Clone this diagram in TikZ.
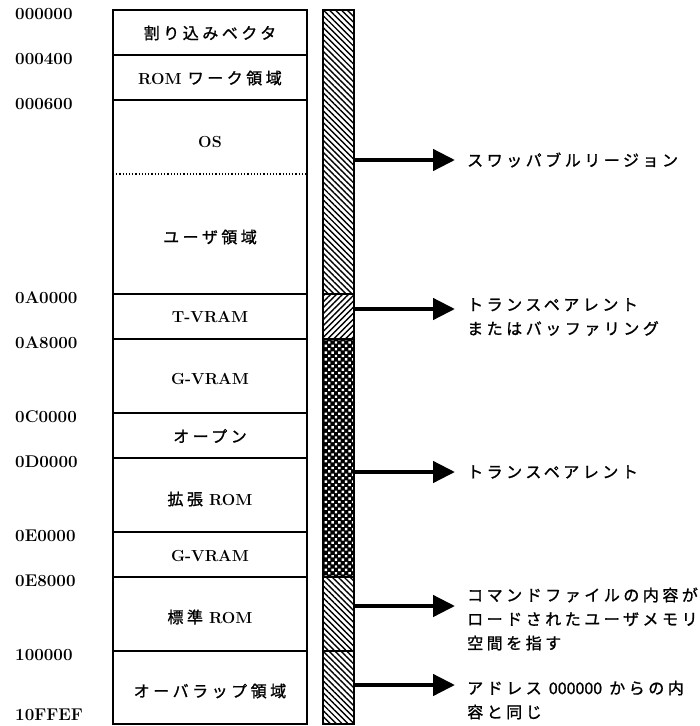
\documentclass[tikz,border=0pt]{standalone}
\usepackage{fontspec}
\usetikzlibrary{patterns.meta,arrows.meta}
\newfontfamily\jpfont{Noto Sans CJK JP}[LetterSpace=22,FakeBold=1.2]
\newfontfamily\jpplain{Noto Sans CJK JP}[FakeBold=1]
\newcommand{\jp}[1]{{\mdseries\fontsize{16}{18}\selectfont\jpfont #1}}
\tikzset{
  addr/.style={anchor=west,inner sep=0pt,font=\fontsize{17}{20}\selectfont\bfseries},
  cell/.style={inner sep=0pt,font=\fontsize{16}{19}\selectfont\bfseries},
  note/.style={anchor=west,inner sep=0pt,align=left,font=\fontsize{16}{24}\selectfont\jpfont},
  bigarrow/.style={line width=4.5pt,-{Triangle[length=22pt,width=21pt]}},
  boxline/.style={line width=1.4pt},
  barline/.style={line width=1.8pt},
  hatchNW/.style={pattern={Lines[angle=-45,distance=4.2pt,line width=1.4pt]}},
  hatchNE/.style={pattern={Lines[angle=45,distance=4.2pt,line width=1.4pt]}},
}
\begin{document}
\begin{tikzpicture}[x=1pt,y=-1pt]
\useasboundingbox (0,0) rectangle (700,726);
% memory column
\draw[boxline] (113,10) rectangle (307,724);
\foreach \yy in {55,100,294,339,413,458,532,577,651}
  \draw[boxline] (113,\yy) -- (307,\yy);
\draw[line width=1.2pt,dotted] (113,174) -- (307,174);
% bar
\fill[hatchNW] (323,10) rectangle (354,294);
\fill[hatchNE] (323,294) rectangle (354,339);
\fill[black] (323,339) rectangle (354,577);
\fill[pattern={Dots[angle=45,distance=4.8pt,radius=1.7pt]},pattern color=white] (323,339) rectangle (354,577);
\fill[hatchNW] (323,577) rectangle (354,724);
\draw[barline] (323,10) rectangle (354,724);
\foreach \yy in {294,339,577,651}
  \draw[barline] (323,\yy) -- (354,\yy);
% addresses
\node[addr] (a0) at (15,14) {000000};
\node[addr] (a1) at (15,59) {000400};
\node[addr] (a2) at (15,104) {000600};
\node[addr] (a3) at (15,298) {0A0000};
\node[addr] (a4) at (15,343) {0A8000};
\node[addr] (a5) at (15,417) {0C0000};
\node[addr] (a6) at (15,462) {0D0000};
\node[addr] (a7) at (15,536) {0E0000};
\node[addr] (a8) at (15,581) {0E8000};
\node[addr] (a9) at (15,655) {100000};
\node[addr] (a10) at (15,715) {10FFEF};
% cell labels
\node[cell] (c0) at (210,33) {\jp{割り込みベクタ}};
\node[cell] (c1) at (210,78) {ROM \jp{ワーク領域}};
\node[cell] (c2) at (210,142) {OS};
\node[cell] (c3) at (210,237) {\jp{ユーザ領域}};
\node[cell] (c4) at (210,317) {T-VRAM};
\node[cell] (c5) at (210,379) {G-VRAM};
\node[cell] (c6) at (210,436) {\jp{オープン}};
\node[cell] (c7) at (210,499) {\jp{拡張} ROM};
\node[cell] (c8) at (210,556) {G-VRAM};
\node[cell] (c9) at (210,617) {\jp{標準} ROM};
\node[cell] (c10) at (210,691) {\jp{オーバラップ領域}};
% notes
\node[note] (n1) at (467,160) {スワッパブルリージョン};
\node[note] (n2) at (467,317) {トランスペアレント\\またはバッファリング};
\node[note] (n3) at (467,472) {トランスペアレント};
\node[note] (n4) at (467,619) {コマンドファイルの内容が\\ロードされたユーザメモリ\\空間を指す};
\node[note] (n5) at (467,700) {アドレス {\jpplain 000000} からの内\\容と同じ};
% arrows
\coordinate (s1) at (354,160); \coordinate (e1) at (455,160);
\coordinate (s2) at (354,309); \coordinate (e2) at (455,309);
\coordinate (s3) at (354,472); \coordinate (e3) at (455,472);
\coordinate (s4) at (354,606); \coordinate (e4) at (455,606);
\coordinate (s5) at (354,685); \coordinate (e5) at (455,685);
\foreach \i in {1,...,5}
  \draw[bigarrow] (s\i) -- (e\i);
\end{tikzpicture}
\end{document}
